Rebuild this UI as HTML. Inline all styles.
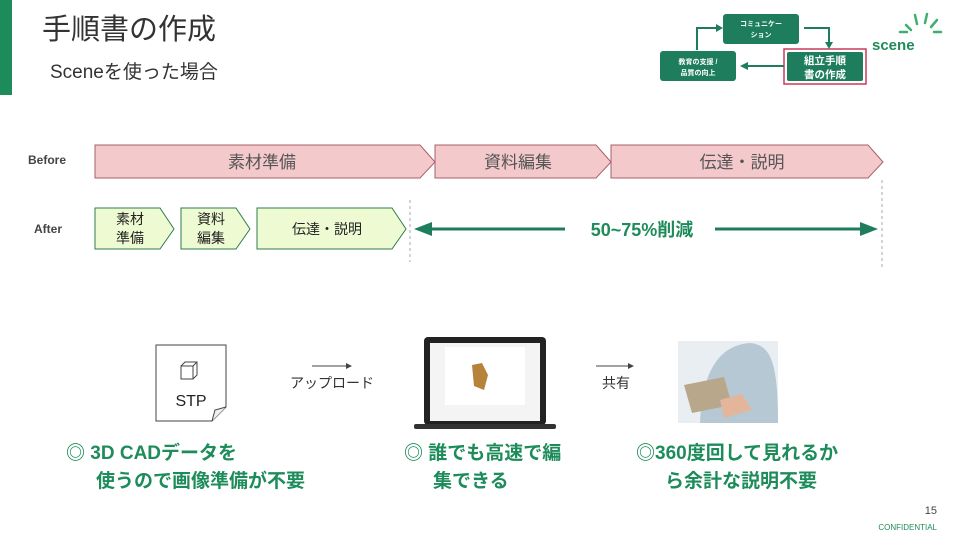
<!DOCTYPE html>
<html><head><meta charset="utf-8"><style>
body{margin:0;width:960px;height:540px;overflow:hidden;background:#fff;font-family:"Liberation Sans","Noto Sans CJK JP",sans-serif}
svg text{font-family:"Liberation Sans","Noto Sans CJK JP",sans-serif}
</style></head><body>
<svg width="960" height="540" viewBox="0 0 960 540" xmlns="http://www.w3.org/2000/svg">
<rect x="0" y="0" width="12" height="95" fill="#1e8c5a"/>
<text x="42" y="39" font-size="29" fill="#333">手順書の作成</text>
<text x="50" y="78" font-size="19" fill="#333">Sceneを使った場合</text>
<!-- top right diagram -->
<rect x="723" y="14" width="76" height="30" rx="3" fill="#1e7d5c"/>
<text x="761" y="26" font-size="7" fill="#fff" text-anchor="middle" font-weight="bold">コミュニケー</text>
<text x="761" y="37" font-size="7" fill="#fff" text-anchor="middle" font-weight="bold">ション</text>
<rect x="660" y="51" width="76" height="30" rx="3" fill="#1e7d5c"/>
<text x="698" y="64" font-size="7" fill="#fff" text-anchor="middle" font-weight="bold">教育の支援 /</text>
<text x="698" y="75" font-size="7" fill="#fff" text-anchor="middle" font-weight="bold">品質の向上</text>
<rect x="784" y="49" width="82" height="35" fill="none" stroke="#c83a5a" stroke-width="1.5"/>
<rect x="787" y="52" width="76" height="29" rx="2" fill="#1e7d5c"/>
<text x="825" y="64" font-size="10.5" fill="#fff" text-anchor="middle" font-weight="bold">組立手順</text>
<text x="825" y="78" font-size="10.5" fill="#fff" text-anchor="middle" font-weight="bold">書の作成</text>
<polyline points="697,50 697,28 716,28" fill="none" stroke="#1e7d5c" stroke-width="2"/>
<polygon points="716,24 723,28 716,32" fill="#1e7d5c"/>
<polyline points="804,28 829,28 829,42" fill="none" stroke="#1e7d5c" stroke-width="2"/>
<polygon points="825,42 833,42 829,49" fill="#1e7d5c"/>
<line x1="784" y1="66" x2="748" y2="66" stroke="#1e7d5c" stroke-width="2"/>
<polygon points="748,62 740,66 748,70" fill="#1e7d5c"/>
<text x="872" y="50" font-size="15" fill="#1e8c5a" font-weight="bold">scene</text>
<g stroke="#3fae6e" stroke-width="2.5" stroke-linecap="round">
<line x1="906" y1="25" x2="911" y2="30"/><line x1="915" y1="15" x2="917" y2="24"/><line x1="927" y1="14" x2="925" y2="23"/><line x1="937" y1="20" x2="931" y2="27"/><line x1="934" y1="32" x2="941" y2="32"/><line x1="900" y1="32" x2="907" y2="32"/>
</g>
<!-- timeline -->
<text x="28" y="164" font-size="12" fill="#444" font-weight="bold">Before</text>
<text x="34" y="233" font-size="12" fill="#444" font-weight="bold">After</text>
<g fill="#f3c9cc" stroke="#a9606a" stroke-width="1">
<polygon points="95,145 420,145 435,162 420,178 95,178"/>
<polygon points="435,145 596,145 611,162 596,178 435,178"/>
<polygon points="611,145 868,145 883,162 868,178 611,178"/>
</g>
<g font-size="17" fill="#555" text-anchor="middle">
<text x="262" y="168">素材準備</text><text x="518" y="168">資料編集</text><text x="742" y="168">伝達・説明</text>
</g>
<g fill="#eefad2" stroke="#2e7d4f" stroke-width="1">
<polygon points="95,208 160,208 174,229 160,249 95,249"/>
<polygon points="181,208 236,208 250,229 236,249 181,249"/>
<polygon points="257,208 392,208 406,229 392,249 257,249"/>
</g>
<g font-size="14" fill="#222" text-anchor="middle">
<text x="130" y="224">素材</text><text x="130" y="243">準備</text>
<text x="211" y="224">資料</text><text x="211" y="243">編集</text>
<text x="327" y="234">伝達・説明</text>
</g>
<line x1="410" y1="200" x2="410" y2="262" stroke="#aaa" stroke-dasharray="3,3"/>
<line x1="882" y1="180" x2="882" y2="268" stroke="#aaa" stroke-dasharray="3,3"/>
<line x1="428" y1="229" x2="565" y2="229" stroke="#1e7d5c" stroke-width="3"/>
<polygon points="432,222 414,229 432,236" fill="#1e7d5c"/>
<line x1="715" y1="229" x2="862" y2="229" stroke="#1e7d5c" stroke-width="3"/>
<polygon points="860,222 878,229 860,236" fill="#1e7d5c"/>
<text x="642" y="236" font-size="18" fill="#1e8c5a" font-weight="bold" text-anchor="middle">50~75%削減</text>
<!-- bottom -->
<path d="M156,345 L226,345 L226,407 L212,421 L156,421 Z" fill="#fff" stroke="#444"/>
<path d="M212,421 L215,410 L226,407" fill="#eee" stroke="#444"/>
<rect x="181" y="366" width="12" height="13" fill="#fff" stroke="#444"/>
<path d="M181,366 l4,-4 h12 v13 l-4,4 M193,366 l4,-4" fill="none" stroke="#444"/>
<text x="191" y="406" font-size="16" fill="#222" text-anchor="middle">STP</text>
<line x1="312" y1="366" x2="348" y2="366" stroke="#444"/><polygon points="346,363 352,366 346,369" fill="#444"/>
<text x="332" y="388" font-size="14" fill="#333" text-anchor="middle">アップロード</text>
<line x1="596" y1="366" x2="630" y2="366" stroke="#444"/><polygon points="628,363 634,366 628,369" fill="#444"/>
<text x="616" y="388" font-size="14" fill="#333" text-anchor="middle">共有</text>
<rect x="424" y="337" width="122" height="88" rx="4" fill="#222"/>
<rect x="430" y="343" width="110" height="78" fill="#f4f4f4"/>
<rect x="445" y="347" width="80" height="58" fill="#fff"/>
<path d="M472,365 l10,-2 l6,12 l-4,15 l-10,-4z" fill="#b7823a"/>
<rect x="414" y="424" width="142" height="5" rx="2" fill="#333"/>
<rect x="678" y="341" width="100" height="82" fill="#e9eef2"/>
<path d="M700,423 C702,370 720,345 750,343 C770,345 778,360 778,423Z" fill="#b6c8d4"/>
<path d="M684,385 l40,-8 l8,28 l-40,8z" fill="#b9a78c"/>
<path d="M720,400 l22,-6 l10,16 l-28,8z" fill="#e3b69b"/>
<g font-size="19" fill="#1e8c5a" font-weight="bold">
<text x="66" y="459">◎ 3D CADデータを</text><text x="96" y="487">使うので画像準備が不要</text>
<text x="404" y="459">◎ 誰でも高速で編</text><text x="433" y="487">集できる</text>
<text x="636" y="459">◎360度回して見れるか</text><text x="665" y="487">ら余計な説明不要</text>
</g>
<text x="937" y="514" font-size="11" fill="#444" text-anchor="end">15</text>
<text x="937" y="530" font-size="8" fill="#1e8c5a" text-anchor="end">CONFIDENTIAL</text>
</svg>
</body></html>
